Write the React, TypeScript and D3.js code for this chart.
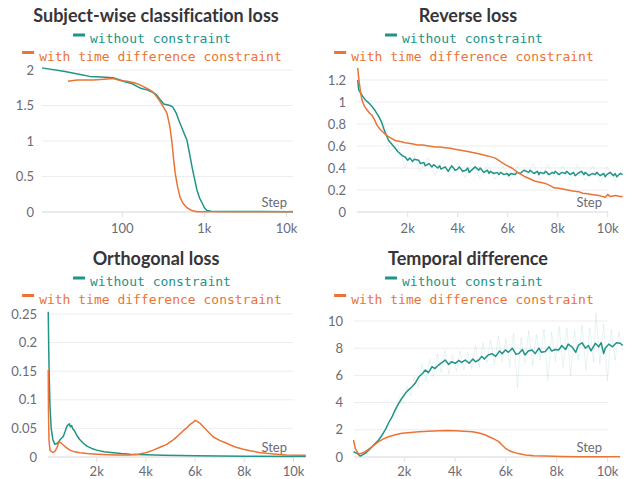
import React from 'react';
import * as d3 from 'd3';

// Subject-wise classification loss (log step axis)
const clsWithout: [number, number][] = [
  [10.5, 2.03], [20, 1.98], [33, 1.93], [40, 1.91], [55, 1.9], [77, 1.89], [94, 1.86], [110, 1.83],
  [130, 1.81], [151, 1.77], [170, 1.74], [200, 1.72], [230, 1.69], [262, 1.65], [290, 1.58],
  [320, 1.52], [350, 1.51], [380, 1.5], [410, 1.48], [450, 1.4], [504, 1.25], [560, 1.12],
  [613, 1.01], [660, 0.82], [705, 0.64], [760, 0.46], [811, 0.31], [870, 0.2], [934, 0.13],
  [1000, 0.06], [1074, 0.02], [1200, 0.01], [2000, 0.008], [5000, 0.006], [12000, 0.005],
];
const clsWith: [number, number][] = [
  [21.7, 1.84], [28, 1.86], [44, 1.86], [60, 1.87], [77, 1.88], [95, 1.85], [114, 1.84], [140, 1.82],
  [164, 1.79], [200, 1.74], [236, 1.69], [260, 1.63], [290, 1.55], [320, 1.47], [350, 1.39],
  [380, 1.2], [403, 0.97], [420, 0.76], [440, 0.55], [470, 0.36], [504, 0.21], [550, 0.12],
  [613, 0.06], [700, 0.02], [811, 0.005], [2000, 0.003], [10000, 0.004], [12000, 0.008],
];

// Reverse loss
const revWithout: [number, number][] = [
  [0, 1.2], [40, 1.11], [150, 1.07], [300, 1.02], [450, 0.99], [570, 0.96], [700, 0.92], [840, 0.87],
  [950, 0.82], [1040, 0.76], [1140, 0.7], [1240, 0.65], [1350, 0.62], [1500, 0.58], [1600, 0.55],
  [1700, 0.53], [1800, 0.51], [1900, 0.5], [2000, 0.47], [2080, 0.49], [2200, 0.46], [2260, 0.48],
  [2440, 0.47], [2510, 0.44], [2650, 0.45], [2700, 0.42], [2850, 0.44], [2970, 0.41], [3040, 0.43],
  [3200, 0.4], [3280, 0.42], [3330, 0.39], [3500, 0.41], [3620, 0.37], [3700, 0.4], [3760, 0.42],
  [3900, 0.38], [4000, 0.39], [4060, 0.41], [4200, 0.37], [4330, 0.38], [4400, 0.4], [4460, 0.36],
  [4600, 0.39], [4700, 0.41], [4840, 0.38], [4900, 0.4], [5050, 0.36], [5190, 0.38], [5250, 0.35],
  [5300, 0.37], [5450, 0.35], [5580, 0.36], [5650, 0.34], [5720, 0.36], [5850, 0.34], [5980, 0.35],
  [6050, 0.33], [6120, 0.35], [6300, 0.34], [6360, 0.36], [6500, 0.35], [6600, 0.37], [6650, 0.38],
  [6840, 0.36], [6900, 0.38], [7050, 0.35], [7190, 0.37], [7250, 0.34], [7300, 0.36], [7450, 0.35],
  [7520, 0.37], [7650, 0.34], [7790, 0.36], [7850, 0.35], [7900, 0.37], [8050, 0.34], [8170, 0.36],
  [8300, 0.35], [8360, 0.37], [8500, 0.34], [8630, 0.36], [8700, 0.33], [8800, 0.35], [8950, 0.37],
  [9050, 0.34], [9100, 0.36], [9250, 0.33], [9380, 0.35], [9500, 0.34], [9560, 0.36], [9700, 0.33],
  [9840, 0.35], [9900, 0.32], [9960, 0.34], [10100, 0.36], [10230, 0.33], [10300, 0.35],
  [10360, 0.32], [10500, 0.35], [10600, 0.34],
];
const revWithoutRaw: [number, number][] = [
  [1000, 0.85], [1300, 0.55], [1600, 0.62], [1900, 0.4], [2200, 0.55], [2500, 0.37], [2800, 0.49],
  [3100, 0.33], [3400, 0.47], [3700, 0.32], [4000, 0.45], [4300, 0.31], [4600, 0.46], [4900, 0.3],
  [5200, 0.43], [5500, 0.3], [5800, 0.42], [6100, 0.29], [6400, 0.42], [6700, 0.3], [7000, 0.44],
  [7300, 0.29], [7600, 0.43], [7900, 0.3], [8200, 0.42], [8500, 0.28], [8800, 0.43], [9100, 0.29],
  [9400, 0.42], [9700, 0.27], [10000, 0.41], [10300, 0.28], [10600, 0.4],
];
const revWith: [number, number][] = [
  [0, 1.31], [50, 1.2], [120, 1.08], [170, 1.02], [270, 0.96], [370, 0.93], [470, 0.9], [570, 0.88],
  [670, 0.84], [770, 0.79], [900, 0.75], [1040, 0.72], [1200, 0.69], [1350, 0.67], [1500, 0.65],
  [1700, 0.64], [1900, 0.63], [2170, 0.62], [2400, 0.61], [2600, 0.61], [2840, 0.6], [3100, 0.59],
  [3300, 0.59], [3500, 0.585], [3700, 0.58], [3900, 0.57], [4170, 0.56], [4400, 0.55], [4600, 0.54],
  [4840, 0.53], [5000, 0.52], [5200, 0.51], [5500, 0.49], [5700, 0.46], [5900, 0.43], [6170, 0.4],
  [6400, 0.36], [6700, 0.32], [6900, 0.3], [7100, 0.28], [7300, 0.27], [7500, 0.26], [7700, 0.24],
  [7850, 0.22], [8040, 0.215], [8200, 0.21], [8400, 0.2], [8600, 0.19], [8840, 0.185], [9000, 0.17],
  [9200, 0.165], [9350, 0.16], [9500, 0.155], [9650, 0.15], [9800, 0.14], [9900, 0.135],
  [10000, 0.16], [10100, 0.14], [10300, 0.15], [10500, 0.14], [10600, 0.14],
];

// Orthogonal loss
const orthWithout: [number, number][] = [
  [30, 0.254], [50, 0.19], [70, 0.14], [100, 0.09], [150, 0.05], [220, 0.03], [300, 0.022],
  [400, 0.024], [510, 0.03], [640, 0.036], [720, 0.045], [780, 0.053], [830, 0.056], [890, 0.058],
  [930, 0.053], [980, 0.055], [1030, 0.049], [1080, 0.047], [1130, 0.043], [1190, 0.038],
  [1300, 0.031], [1460, 0.024], [1600, 0.019], [1800, 0.015], [2000, 0.012], [2300, 0.009],
  [2670, 0.0075], [3000, 0.006], [3350, 0.005], [4000, 0.004], [4700, 0.003], [6000, 0.002],
  [8000, 0.0015], [10500, 0.001],
];
const orthWith: [number, number][] = [
  [30, 0.152], [40, 0.08], [60, 0.03], [100, 0.012], [170, 0.009], [240, 0.008], [300, 0.01],
  [370, 0.015], [430, 0.022], [480, 0.027], [560, 0.024], [640, 0.021], [780, 0.016], [915, 0.012],
  [1100, 0.009], [1320, 0.0075], [1600, 0.006], [2000, 0.005], [2500, 0.004], [2800, 0.0035],
  [3350, 0.0035], [3700, 0.005], [4030, 0.008], [4300, 0.012], [4570, 0.017], [4850, 0.022],
  [5110, 0.03], [5300, 0.037], [5520, 0.046], [5660, 0.051], [5800, 0.057], [5900, 0.06],
  [6000, 0.064], [6100, 0.062], [6200, 0.059], [6400, 0.05], [6600, 0.041], [6740, 0.035],
  [7000, 0.029], [7280, 0.024], [7600, 0.018], [7960, 0.0135], [8230, 0.011], [8600, 0.008],
  [8910, 0.0065], [9300, 0.005], [9720, 0.0035], [10100, 0.003], [10500, 0.003],
];

// Temporal difference
const tdWithout: [number, number][] = [
  [0, 0.39], [140, 0.27], [270, 0.07], [460, 0.27], [600, 0.5], [730, 0.76], [860, 1.0], [990, 1.25],
  [1120, 1.6], [1250, 1.99], [1380, 2.5], [1520, 2.96], [1650, 3.5], [1780, 3.95], [1900, 4.3],
  [2040, 4.68], [2150, 4.9], [2300, 5.17], [2420, 5.4], [2570, 5.9], [2700, 6.1], [2830, 6.4],
  [2950, 6.2], [3090, 6.64], [3200, 6.5], [3350, 6.76], [3450, 6.9], [3610, 7.13], [3750, 6.8],
  [3850, 7.0], [4010, 6.89], [4150, 7.1], [4250, 6.95], [4400, 7.13], [4550, 6.9], [4700, 7.2],
  [4800, 7.0], [4930, 7.13], [5050, 7.4], [5150, 7.2], [5300, 7.5], [5450, 7.6], [5600, 7.4],
  [5750, 7.8], [5850, 7.6], [5980, 7.87], [6100, 7.7], [6250, 8.0], [6400, 7.55], [6500, 7.6],
  [6650, 7.9], [6750, 7.5], [6880, 7.8], [7030, 7.87], [7150, 7.6], [7300, 8.0], [7400, 7.7],
  [7550, 7.75], [7700, 8.1], [7800, 7.8], [7950, 7.9], [8080, 7.87], [8200, 8.2], [8350, 7.9],
  [8450, 8.3], [8600, 8.1], [8750, 7.7], [8850, 8.2], [9000, 8.4], [9130, 8.0], [9250, 8.2],
  [9350, 7.8], [9520, 8.36], [9650, 8.1], [9750, 8.4], [9850, 7.6], [9910, 8.0], [10050, 8.3],
  [10200, 8.1], [10350, 8.4], [10500, 8.36], [10600, 8.2],
];
const tdWithoutRaw: [number, number][] = [
  [1500, 3.2], [1650, 3.0], [1800, 4.4], [1950, 3.9], [2100, 5.2], [2250, 4.5], [2400, 5.9],
  [2550, 5.1], [2700, 6.8], [2850, 5.6], [3000, 7.2], [3150, 5.9], [3300, 7.6], [3450, 6.2],
  [3600, 7.9], [3750, 6.1], [3900, 7.5], [4050, 6.3], [4200, 7.8], [4350, 6.4], [4500, 7.7],
  [4650, 6.5], [4800, 8.2], [4950, 6.6], [5100, 8.4], [5250, 6.9], [5400, 8.6], [5550, 6.8],
  [5700, 8.9], [5850, 7.0], [6000, 8.7], [6150, 6.6], [6300, 9.1], [6450, 5.1], [6600, 8.8],
  [6750, 6.9], [6900, 9.3], [7050, 6.7], [7200, 9.0], [7350, 7.1], [7500, 9.4], [7650, 5.6],
  [7800, 9.2], [7950, 7.0], [8100, 9.6], [8250, 6.6], [8400, 9.5], [8550, 6.0], [8700, 9.3],
  [8850, 7.1], [9000, 9.7], [9150, 6.4], [9300, 9.5], [9450, 7.0], [9550, 10.6], [9700, 6.8],
  [9850, 9.8], [10000, 5.6], [10150, 9.4], [10300, 7.1], [10450, 9.2], [10600, 7.8],
];
const tdWith: [number, number][] = [
  [0, 1.25], [70, 0.64], [200, 0.22], [330, 0.28], [460, 0.39], [600, 0.58], [730, 0.76], [860, 0.95],
  [990, 1.13], [1180, 1.33], [1380, 1.49], [1650, 1.63], [1910, 1.74], [2250, 1.81], [2570, 1.86],
  [2950, 1.9], [3350, 1.93], [3700, 1.94], [4010, 1.93], [4350, 1.9], [4670, 1.86], [4950, 1.76],
  [5190, 1.62], [5450, 1.4], [5720, 1.13], [5850, 0.88], [5980, 0.64], [6100, 0.5], [6240, 0.39],
  [6500, 0.25], [6760, 0.15], [7100, 0.1], [7550, 0.07], [8200, 0.04], [8870, 0.02], [9600, 0.015],
  [10500, 0.01],
];

const stepTicks = [2000, 4000, 6000, 8000, 10000];
const stepLabels = ['2k', '4k', '6k', '8k', '10k'];
const logTicks = [100, 1000, 10000];
const logLabels = ['100', '1k', '10k'];

const seriesNames = ['without constraint', 'with time difference constraint'];
const TEAL = '#229487';
const ORANGE = '#eb7336';
const TICK = '#6b6b76';
const GRID = '#ededf0';

type Panel = {
  title: string;
  ox: number;
  oy: number;
  x: any;
  y: d3.ScaleLinear<number, number>;
  gridL: number;
  gridR: number;
  yTicks: number[];
  yLabels: string[];
  labelRight: number;
  xTicks: number[];
  xLabels: string[];
  xLabelDy: number;
  without: [number, number][];
  withC: [number, number][];
  raw?: [number, number][];
};

const panels: Panel[] = [
  {
    title: 'Subject-wise classification loss', ox: 0, oy: 0,
    x: d3.scaleLog().domain([10.5, 12000]).range([42, 293]),
    y: d3.scaleLinear().domain([0, 2]).range([212, 70]),
    gridL: 42, gridR: 293,
    yTicks: [0, 0.5, 1, 1.5, 2], yLabels: ['0', '0.5', '1', '1.5', '2'], labelRight: 34,
    xTicks: logTicks, xLabels: logLabels, xLabelDy: 21,
    without: clsWithout, withC: clsWith,
  },
  {
    title: 'Reverse loss', ox: 312, oy: 0,
    x: d3.scaleLinear().domain([0, 10000]).range([357.7, 607.7]),
    y: d3.scaleLinear().domain([0, 1.2]).range([212, 80]),
    gridL: 357, gridR: 608,
    yTicks: [0, 0.2, 0.4, 0.6, 0.8, 1, 1.2], yLabels: ['0', '0.2', '0.4', '0.6', '0.8', '1', '1.2'],
    labelRight: 346,
    xTicks: stepTicks, xLabels: stepLabels, xLabelDy: 21,
    without: revWithout, withC: revWith, raw: revWithoutRaw,
  },
  {
    title: 'Orthogonal loss', ox: 0, oy: 243,
    x: d3.scaleLinear().domain([0, 10000]).range([47.5, 293.5]),
    y: d3.scaleLinear().domain([0, 0.25]).range([457, 314]),
    gridL: 48, gridR: 293,
    yTicks: [0, 0.05, 0.1, 0.15, 0.2, 0.25], yLabels: ['0', '0.05', '0.1', '0.15', '0.2', '0.25'],
    labelRight: 37,
    xTicks: stepTicks, xLabels: stepLabels, xLabelDy: 18.5,
    without: orthWithout, withC: orthWith,
  },
  {
    title: 'Temporal difference', ox: 312, oy: 243,
    x: d3.scaleLinear().domain([0, 10000]).range([353.5, 607.5]),
    y: d3.scaleLinear().domain([0, 10]).range([457, 321]),
    gridL: 354, gridR: 608,
    yTicks: [0, 2, 4, 6, 8, 10], yLabels: ['0', '2', '4', '6', '8', '10'], labelRight: 343,
    xTicks: stepTicks, xLabels: stepLabels, xLabelDy: 18.5,
    without: tdWithout, withC: tdWith, raw: tdWithoutRaw,
  },
];

const CHAR_W = 7.83;
const SANS = "Lato, 'Noto Sans', sans-serif";

const ChartPanel = ({ p }: { p: Panel }) => {
  const line = d3.line<[number, number]>()
    .x(d => p.x(d[0]))
    .y(d => p.y(d[1]));
  const base = p.y(0);
  const cx = p.ox + 152;
  return (
    <g>
      <text x={p.ox + 156} y={p.oy + 22} textAnchor="middle" fontFamily={SANS}
        fontWeight={700} fontSize={18} fill="#35353a" style={{ fontVariantLigatures: 'none' }}>{p.title}</text>
      {seriesNames.map((name, i) => {
        const w = 17 + name.length * CHAR_W;
        const x0 = cx - w / 2;
        const by = p.oy + 43 + i * 17.5;
        const c = i === 0 ? TEAL : ORANGE;
        return (
          <g key={name}>
            <rect x={x0} y={by - 9.5} width={12} height={3} fill={c} />
            <text x={x0 + 17} y={by} fontFamily="'DejaVu Sans Mono', monospace" fontSize={13} fill={c}>{name}</text>
          </g>
        );
      })}
      {p.yTicks.map((t, i) => (
        <g key={t}>
          {t !== 0 && <line x1={p.gridL} x2={p.gridR} y1={p.y(t)} y2={p.y(t)} stroke={GRID} strokeWidth={1} />}
          <text x={p.labelRight} y={p.y(t) + 4.5} textAnchor="end" fontFamily={SANS}
            fontSize={13} fill={TICK}>{p.yLabels[i]}</text>
        </g>
      ))}
      <line x1={p.gridL} x2={p.gridR} y1={base} y2={base} stroke="#d6d6dc" strokeWidth={1} />
      {p.xTicks.map((t, i) => (
        <g key={t}>
          <line x1={p.x(t)} x2={p.x(t)} y1={base} y2={base + 5} stroke="#e0e0e4" strokeWidth={1} />
          <text x={p.x(t)} y={base + p.xLabelDy} textAnchor="middle" fontFamily={SANS}
            fontSize={13} fill={TICK}>{p.xLabels[i]}</text>
        </g>
      ))}
      {p.raw && <path d={line(p.raw) || ''} fill="none" stroke={TEAL} strokeOpacity={0.1} strokeWidth={1} />}
      <path d={line(p.without) || ''} fill="none" stroke={TEAL} strokeWidth={1.5} strokeLinejoin="round" />
      <path d={line(p.withC) || ''} fill="none" stroke={ORANGE} strokeWidth={1.5} strokeLinejoin="round" />
      <text x={p.gridR - 6} y={base - 5} textAnchor="end" fontFamily={SANS}
        fontSize={13} fill={TICK}>Step</text>
    </g>
  );
};

const App = () => (
  <svg width={625} height={479} style={{ position: 'absolute', left: 0, top: 0, background: '#fff' }}>
    {panels.map(p => <ChartPanel key={p.title} p={p} />)}
  </svg>
);

export default App;
